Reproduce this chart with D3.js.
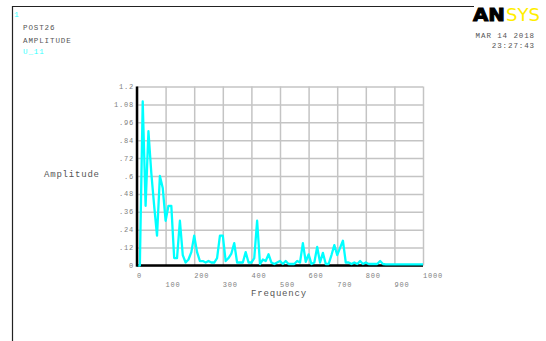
<!DOCTYPE html>
<html>
<head>
<meta charset="utf-8">
<script src="https://cdn.jsdelivr.net/npm/d3@7"></script>
<style>
  html, body { margin: 0; padding: 0; background: #fff; }
  svg { display: block; }
  text { font-family: "Liberation Mono", "DejaVu Sans Mono", monospace; }
</style>
</head>
<body>
<div id="chart"></div>
<script>
// frequency grid (Hz) and amplitude
const freqs = [
  0, 10, 20, 30, 40, 50, 60, 70, 80, 90,
  100, 110, 120, 130, 140, 150, 160, 170, 180, 190,
  200, 210, 220, 230, 240, 250, 260, 270, 280, 290,
  300, 310, 320, 330, 340, 350, 360, 370, 380, 390,
  400, 410, 420, 430, 440, 450, 460, 470, 480, 490,
  500, 510, 520, 530, 540, 550, 560, 570, 580, 590,
  600, 610, 620, 630, 640, 650, 660, 670, 680, 690,
  700, 710, 720, 730, 740, 750, 760, 770, 780, 790,
  800, 810, 820, 830, 840, 850, 860, 870, 880, 890,
  900, 910, 920, 930, 940, 950, 960, 970, 980, 990,
  1000
];
const amplitude = [
  0, 0, 1.10, 0.40, 0.90, 0.62, 0.40, 0.20, 0.60, 0.52,
  0.30, 0.40, 0.40, 0.05, 0.05, 0.30, 0.07, 0.02, 0.04, 0.09,
  0.20, 0.09, 0.03, 0.03, 0.02, 0.03, 0.02, 0.02, 0.05, 0.20,
  0.20, 0.03, 0.05, 0.08, 0.15, 0.02, 0.02, 0.02, 0.09, 0.02,
  0.02, 0.05, 0.30, 0.01, 0.04, 0.03, 0.075, 0.02, 0.01, 0.02,
  0.03, 0.01, 0.03, 0.01, 0.01, 0.01, 0.03, 0.02, 0.15, 0.025,
  0.075, 0.01, 0.02, 0.125, 0.02, 0.085, 0.01, 0.01, 0.07, 0.137,
  0.07, 0.118, 0.166, 0.02, 0.02, 0.01, 0.02, 0.01, 0.03, 0.01,
  0.02, 0.01, 0.01, 0.01, 0.01, 0.03, 0.01, 0.008, 0.008, 0.008,
  0.008, 0.008, 0.008, 0.008, 0.008, 0.008, 0.008, 0.008, 0.008, 0.008,
  0.008
];
const xTicks = [0, 100, 200, 300, 400, 500, 600, 700, 800, 900, 1000];
const yTicks = [0, 0.12, 0.24, 0.36, 0.48, 0.6, 0.72, 0.84, 0.96, 1.08, 1.2];
const yTickLabels = ["0", ".12", ".24", ".36", ".48", ".6", ".72", ".84", ".96", "1.08", "1.2"];

const width = 546, height = 341;
const svg = d3.select("#chart").append("svg")
  .attr("width", width)
  .attr("height", height);

// window frame
svg.append("line").attr("x1", 12).attr("x2", 474).attr("y1", 6.5).attr("y2", 6.5)
  .attr("stroke", "#222").attr("stroke-width", 1.2);
svg.append("line").attr("x1", 12.5).attr("x2", 12.5).attr("y1", 6).attr("y2", height)
  .attr("stroke", "#222").attr("stroke-width", 1.2);

// header texts
svg.append("text").attr("x", 14).attr("y", 17).attr("fill", "#33ffff")
  .style("font-size", "8px").text("1");
svg.append("text").attr("x", 23).attr("y", 30).attr("fill", "#555")
  .style("font-size", "7.5px").style("letter-spacing", "0.9px").text("POST26");
svg.append("text").attr("x", 23).attr("y", 43).attr("fill", "#555")
  .style("font-size", "7.5px").style("letter-spacing", "0.9px").text("AMPLITUDE");
svg.append("text").attr("x", 23).attr("y", 53.5).attr("fill", "#33ffff")
  .style("font-size", "7.5px").style("letter-spacing", "0.9px").text("U_11");

svg.append("text").attr("x", 535).attr("y", 38).attr("text-anchor", "end").attr("fill", "#555")
  .style("font-size", "7.5px").style("letter-spacing", "0.9px").text("MAR 14 2018");
svg.append("text").attr("x", 535).attr("y", 48).attr("text-anchor", "end").attr("fill", "#555")
  .style("font-size", "7.5px").style("letter-spacing", "0.9px").text("23:27:43");

// logo
svg.append("text").attr("x", 473).attr("y", 21)
  .attr("textLength", 32).attr("lengthAdjust", "spacingAndGlyphs")
  .style("font-family", "'DejaVu Sans', sans-serif")
  .style("font-weight", "bold").style("font-size", "18px")
  .attr("fill", "#000").attr("stroke", "#000").attr("stroke-width", 1)
  .text("AN");
svg.append("text").attr("x", 506).attr("y", 21)
  .attr("textLength", 34).attr("lengthAdjust", "spacingAndGlyphs")
  .style("font-family", "'DejaVu Sans', sans-serif")
  .style("font-size", "18px")
  .attr("fill", "#ffee00")
  .text("SYS");

// plot
const margin = { top: 86.5, right: 123, bottom: 75.5, left: 137 };
const innerW = width - margin.left - margin.right;
const innerH = height - margin.top - margin.bottom;

const g = svg.append("g").attr("transform", `translate(${margin.left},${margin.top})`);

const x = d3.scaleLinear().domain([0, 1000]).range([0, innerW]);
const y = d3.scaleLinear().domain([0, 1.2]).range([innerH, 0]);

// grid
g.append("g")
  .attr("transform", `translate(0,${innerH})`)
  .call(d3.axisBottom(x).tickValues(xTicks).tickSize(-innerH).tickFormat(""))
  .call(a => a.select(".domain").remove())
  .call(a => a.selectAll(".tick line").attr("stroke", "#c4c4c4").attr("stroke-width", 1.5));
g.append("g")
  .call(d3.axisLeft(y).tickValues(yTicks).tickSize(-innerW).tickFormat(""))
  .call(a => a.select(".domain").remove())
  .call(a => a.selectAll(".tick line").attr("stroke", "#c4c4c4").attr("stroke-width", 1.5));

// y tick labels
g.selectAll(".ylab")
  .data(yTicks)
  .join("text")
  .attr("class", "ylab")
  .attr("x", -3)
  .attr("y", d => y(d) + 2.5)
  .attr("text-anchor", "end")
  .attr("fill", "#808080")
  .style("font-size", "7px")
  .style("letter-spacing", "0.8px")
  .text((d, i) => yTickLabels[i]);

// x tick labels, alternating rows, left aligned at tick
g.selectAll(".xlab")
  .data(xTicks)
  .join("text")
  .attr("class", "xlab")
  .attr("x", d => x(d))
  .attr("y", (d, i) => innerH + (i % 2 === 0 ? 12.5 : 21))
  .attr("fill", "#808080")
  .style("font-size", "7px")
  .style("letter-spacing", "0.8px")
  .text(d => d);

// axis titles
svg.append("text").attr("x", 279).attr("y", 296).attr("text-anchor", "middle").attr("fill", "#555")
  .style("font-size", "9px").style("letter-spacing", "0.8px").text("Frequency");
svg.append("text").attr("x", 44).attr("y", 177).attr("fill", "#555")
  .style("font-size", "9px").style("letter-spacing", "0.8px").text("Amplitude");

// bottom axis line
g.append("line").attr("x1", 0).attr("x2", innerW).attr("y1", innerH).attr("y2", innerH)
  .attr("stroke", "#000").attr("stroke-width", 2.5);

// curve
const line = d3.line()
  .x((d, i) => x(freqs[i]))
  .y(d => y(d));
g.append("path")
  .datum(amplitude)
  .attr("fill", "none")
  .attr("stroke", "#00ffff")
  .attr("stroke-width", 2.3)
  .attr("stroke-linejoin", "round")
  .attr("d", line);

// left axis line
g.append("line").attr("x1", 0).attr("x2", 0).attr("y1", 0).attr("y2", innerH + 1.2)
  .attr("stroke", "#000").attr("stroke-width", 2.5);
</script>
</body>
</html>
